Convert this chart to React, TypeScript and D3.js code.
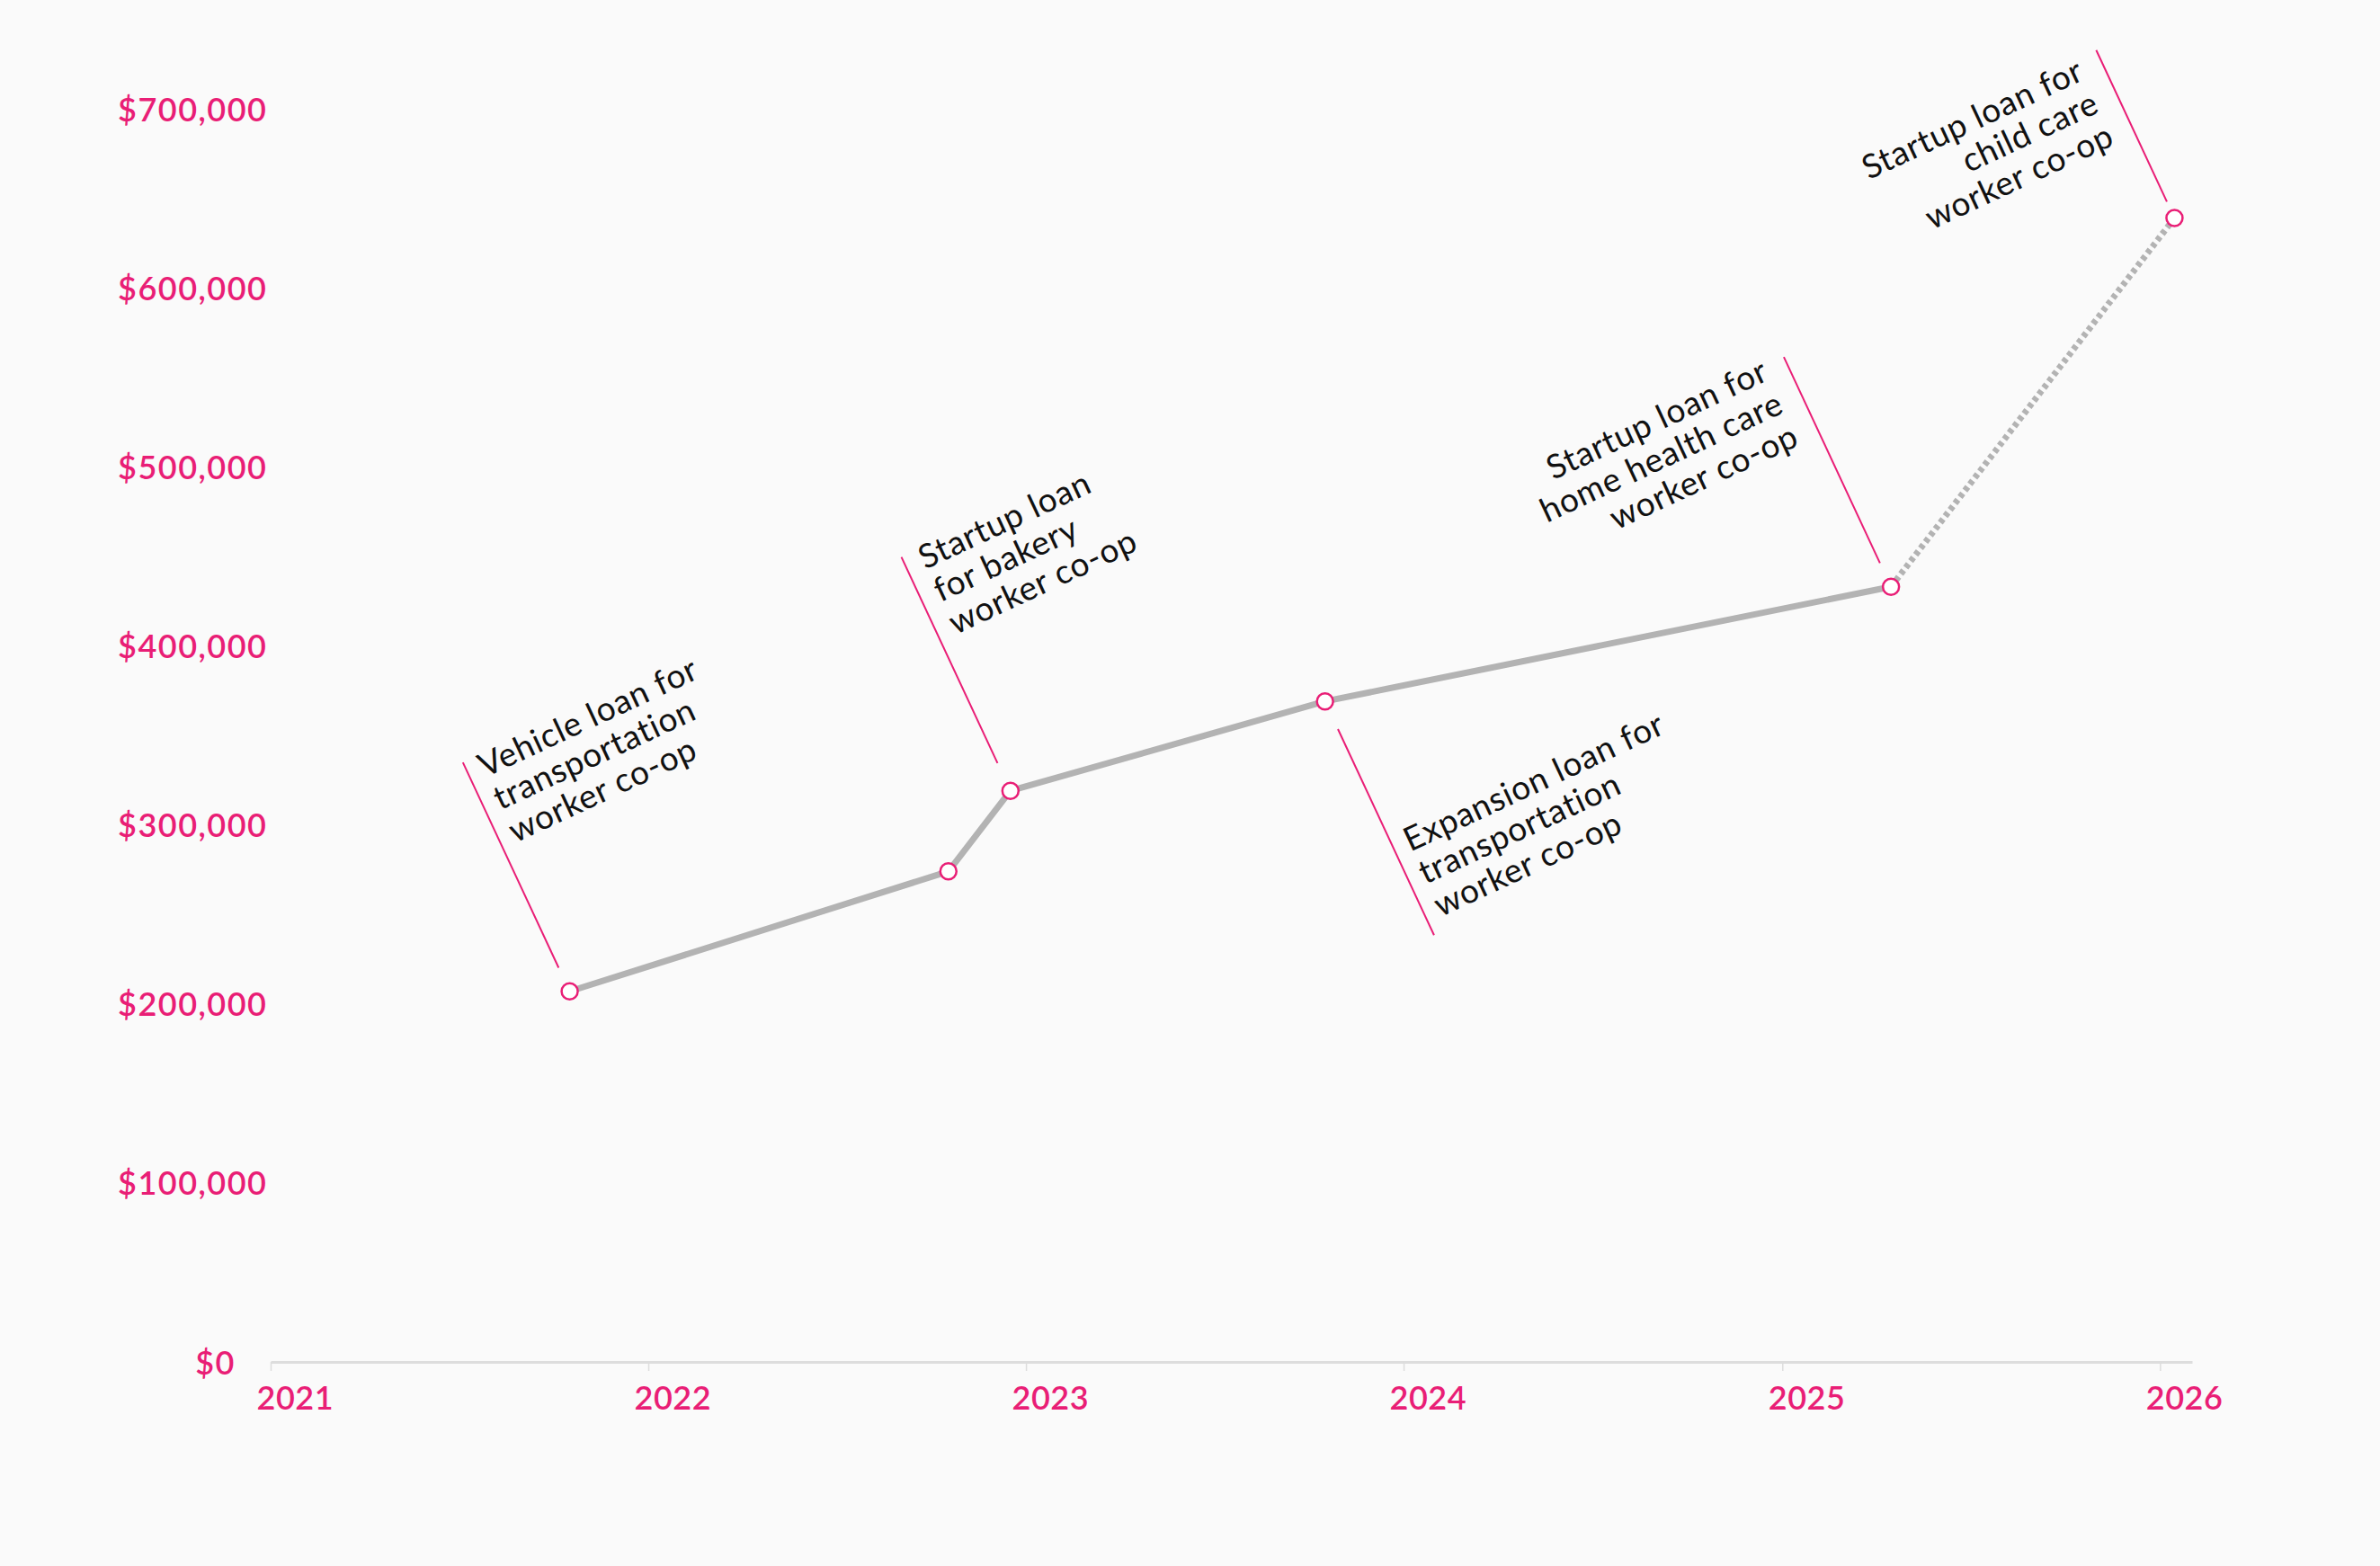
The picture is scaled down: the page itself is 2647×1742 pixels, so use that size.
import * as d3 from "d3";
import { useEffect, useRef } from "react";

// loan disbursements (approx. dates and running totals)
const loanDates = ["2021-10-17", "2022-10-18", "2022-12-17", "2023-10-17", "2025-04-16", "2026-01-15"];
const loanTotals = [207000, 274000, 319000, 369000, 433000, 639000];
// the last segment is projected (dotted)
const projectedFrom = 4;

const yTickValues = [0, 100000, 200000, 300000, 400000, 500000, 600000, 700000];
const xTickYears = [2021, 2022, 2023, 2024, 2025, 2026];

const noteLines = [
  ["Vehicle loan for", "transportation", "worker co-op"],
  ["Startup loan", "for bakery", "worker co-op"],
  ["Expansion loan for", "transportation", "worker co-op"],
  ["Startup loan for", "home health care", "worker co-op"],
  ["Startup loan for", "child care", "worker co-op"],
];
const notePoint = [0, 2, 3, 4, 5];

// placement in the rotated frame of each note (origin at the point)
const noteLayout = [
  { y0: -29, y1: -281, tx: 15, ty: -255, anchor: "start" },
  { y0: -34, y1: -287, tx: 18, ty: -263, anchor: "start" },
  { y0: 34, y1: 287, tx: 15, ty: 192, anchor: "start" },
  { y0: -29, y1: -282, tx: -24, ty: -266, anchor: "end" },
  { y0: -20, y1: -206, tx: -24, ty: -182, anchor: "end" },
];

const W = 2647;
const H = 1742;
const PINK = "#e91e76";
const BG = "#fafafa";

export default function App() {
  const ref = useRef<SVGSVGElement>(null);

  useEffect(() => {
    if (!ref.current) return;
    document.body.style.margin = "0";
    document.body.style.background = BG;

    const svg = d3.select(ref.current);
    svg.selectAll("*").remove();

    svg.append("rect").attr("width", W).attr("height", H).attr("fill", BG);

    const parse = d3.timeParse("%Y-%m-%d");
    const data = loanDates.map((d, i) => ({ date: parse(d) as Date, value: loanTotals[i] }));

    const x = d3
      .scaleTime()
      .domain([new Date(2021, 0, 1), new Date(2026, 1, 1)])
      .range([301, 2438]);
    const y = d3.scaleLinear().domain([0, 700000]).range([1515, 121]);

    // x axis
    const xAxis = svg
      .append("g")
      .attr("transform", `translate(0,${y(0)})`)
      .call(
        d3
          .axisBottom(x)
          .tickValues(xTickYears.map((yr) => new Date(yr, 0, 1)))
          .tickFormat((d) => d3.timeFormat("%Y")(d as Date))
          .tickSize(10)
          .tickSizeOuter(0)
      );
    xAxis.select(".domain").attr("stroke", "#dddddd").attr("stroke-width", 3);
    xAxis.selectAll(".tick line").attr("stroke", "#dddddd").attr("stroke-width", 1.5);
    xAxis
      .selectAll(".tick text")
      .attr("x", -16)
      .attr("y", 53)
      .attr("dy", 0)
      .attr("text-anchor", "start")
      .style("font-family", "Lato, sans-serif")
      .style("font-size", "36px")
      .style("font-weight", "600")
      .style("letter-spacing", "0.5px")
      .style("fill", PINK);

    // y axis (labels only)
    const yAxis = svg.append("g").call(
      d3
        .axisLeft(y)
        .tickValues(yTickValues)
        .tickFormat((v) => "$" + d3.format(",")(v as number))
        .tickSize(0)
    );
    yAxis.select(".domain").remove();
    yAxis
      .selectAll<SVGTextElement, number>(".tick text")
      .attr("x", (v) => (v === 0 ? 262 : 131))
      .attr("y", 13)
      .attr("dy", 0)
      .attr("text-anchor", (v) => (v === 0 ? "end" : "start"))
      .style("font-family", "Lato, sans-serif")
      .style("font-size", "36px")
      .style("font-weight", "600")
      .style("letter-spacing", "1.5px")
      .style("fill", PINK);

    const line = d3
      .line<{ date: Date; value: number }>()
      .x((d) => x(d.date))
      .y((d) => y(d.value));

    svg
      .append("path")
      .datum(data.slice(0, projectedFrom + 1))
      .attr("d", line)
      .attr("fill", "none")
      .attr("stroke", "#b3b3b3")
      .attr("stroke-width", 7)
      .attr("stroke-linejoin", "round");

    svg
      .append("path")
      .datum(data.slice(projectedFrom))
      .attr("d", line)
      .attr("fill", "none")
      .attr("stroke", "#b3b3b3")
      .attr("stroke-width", 7)
      .attr("stroke-dasharray", "5,4");

    svg
      .selectAll(".pt")
      .data(data)
      .join("circle")
      .attr("class", "pt")
      .attr("cx", (d) => x(d.date))
      .attr("cy", (d) => y(d.value))
      .attr("r", 9)
      .attr("fill", "#ffffff")
      .attr("stroke", PINK)
      .attr("stroke-width", 2.5);

    // annotations, rotated -25deg around their point
    const notes = svg
      .selectAll(".note")
      .data(noteLines.map((lines, i) => ({ lines, layout: noteLayout[i], d: data[notePoint[i]] })))
      .join("g")
      .attr("class", "note")
      .attr("transform", (n) => `translate(${x(n.d.date)},${y(n.d.value)}) rotate(-25)`);

    notes
      .append("line")
      .attr("x1", 0)
      .attr("x2", 0)
      .attr("y1", (n) => n.layout.y0)
      .attr("y2", (n) => n.layout.y1)
      .attr("stroke", PINK)
      .attr("stroke-width", 2);

    notes.each(function (n) {
      const t = d3
        .select(this)
        .append("text")
        .attr("text-anchor", n.layout.anchor)
        .style("font-family", "Lato, sans-serif")
        .style("font-size", "37px")
        .style("font-weight", "400")
        .style("letter-spacing", "0.8px")
        .style("fill", "#111111");
      n.lines.forEach((s, k) => {
        t.append("tspan")
          .attr("x", n.layout.tx)
          .attr("y", n.layout.ty + k * 40)
          .text(s);
      });
    });
  }, []);

  return <svg ref={ref} width={W} height={H} style={{ display: "block" }} />;
}
